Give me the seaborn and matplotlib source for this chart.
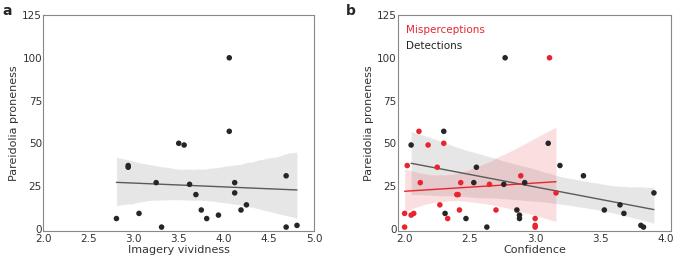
import numpy as np
import pandas as pd
import matplotlib
matplotlib.use("Agg")
import matplotlib.pyplot as plt
import seaborn as sns

# ── data ───────────────────────────────────────────────
vividness = [2.81, 2.94, 2.94, 3.06, 3.25, 3.31, 3.50, 3.56, 3.62, 3.69, 3.75,
             3.81, 3.94, 4.06, 4.06, 4.12, 4.12, 4.19, 4.25, 4.69, 4.69, 4.81]
proneness_a = [6, 37, 36, 9, 27, 1, 50, 49, 26, 20, 11,
               6, 8, 100, 57, 27, 21, 11, 14, 31, 1, 2]

mis_conf = [2.00, 2.00, 2.02, 2.05, 2.07, 2.11, 2.12, 2.18, 2.25, 2.27, 2.30, 2.33,
            2.40, 2.41, 2.42, 2.43, 2.65, 2.70, 2.89, 3.00, 3.00, 3.00, 3.11, 3.16]
mis_prone = [1, 9, 37, 8, 9, 57, 27, 49, 36, 14, 50, 6,
             20, 20, 11, 27, 26, 11, 31, 6, 2, 1, 100, 21]

det_conf = [2.05, 2.30, 2.31, 2.47, 2.53, 2.55, 2.63, 2.76, 2.77, 2.86, 2.88,
            2.88, 2.92, 3.10, 3.19, 3.37, 3.53, 3.65, 3.68, 3.81, 3.83, 3.91]
det_prone = [49, 57, 9, 6, 27, 36, 1, 26, 100, 11, 8,
             6, 27, 50, 37, 31, 11, 14, 9, 2, 1, 21]

BLACK = "#262626"
GREY_LINE = "#5a5a5a"
RED = "#e8252f"

sns.set_theme(style="white")
plt.rcParams["font.family"] = ["DejaVu Sans"]

fig = plt.figure(figsize=(6.77, 2.59), dpi=100)
ax_a = fig.add_axes([0.064, 0.11, 0.400, 0.832])
ax_b = fig.add_axes([0.588, 0.11, 0.403, 0.832])

df_a = pd.DataFrame({"x": vividness, "y": proneness_a})
df_mis = pd.DataFrame({"x": mis_conf, "y": mis_prone})
df_det = pd.DataFrame({"x": det_conf, "y": det_prone})

# ── panel a ──
sns.regplot(data=df_a, x="x", y="y", ax=ax_a, scatter=False, color=GREY_LINE,
            seed=0, line_kws={"linewidth": 1.0})
sns.scatterplot(data=df_a, x="x", y="y", ax=ax_a, color=BLACK, s=16,
                edgecolor="none", zorder=3)
ax_a.set_xlim(2.0, 5.0)
ax_a.set_ylim(-1, 125)
ax_a.set_xlabel("Imagery vividness", fontsize=8, color="#333333", labelpad=1)

# ── panel b ──
sns.regplot(data=df_det, x="x", y="y", ax=ax_b, scatter=False, color=GREY_LINE,
            seed=0, line_kws={"linewidth": 1.0})
sns.regplot(data=df_mis, x="x", y="y", ax=ax_b, scatter=False, color=RED,
            seed=0, line_kws={"linewidth": 1.0})
sns.scatterplot(data=df_det, x="x", y="y", ax=ax_b, color=BLACK, s=16,
                edgecolor="none", zorder=3)
sns.scatterplot(data=df_mis, x="x", y="y", ax=ax_b, color=RED, s=16,
                edgecolor="none", zorder=3)
ax_b.set_xlim(1.95, 4.04)
ax_b.set_ylim(-1, 125)
ax_b.set_xlabel("Confidence", fontsize=8, color="#333333", labelpad=1)
ax_b.text(0.03, 0.93, "Misperceptions", transform=ax_b.transAxes,
          color=RED, fontsize=7.5, va="center")
ax_b.text(0.03, 0.855, "Detections", transform=ax_b.transAxes,
          color="#222222", fontsize=7.5, va="center")

for ax in (ax_a, ax_b):
    ax.set_yticks([0, 25, 50, 75, 100, 125])
    ax.set_ylabel("Pareidolia proneness", fontsize=8, color="#333333", labelpad=2)
    ax.tick_params(labelsize=7.5, colors="#333333", length=0)
    ax.tick_params(axis="y", pad=1)
    ax.tick_params(axis="x", pad=2.5)
    for sp in ax.spines.values():
        sp.set_color("#888888")
        sp.set_linewidth(0.8)

fig.text(0.004, 0.985, "a", fontsize=10, fontweight="bold", va="top")
fig.text(0.511, 0.985, "b", fontsize=10, fontweight="bold", va="top")

plt.savefig("out.png", dpi=100)
plt.close()
